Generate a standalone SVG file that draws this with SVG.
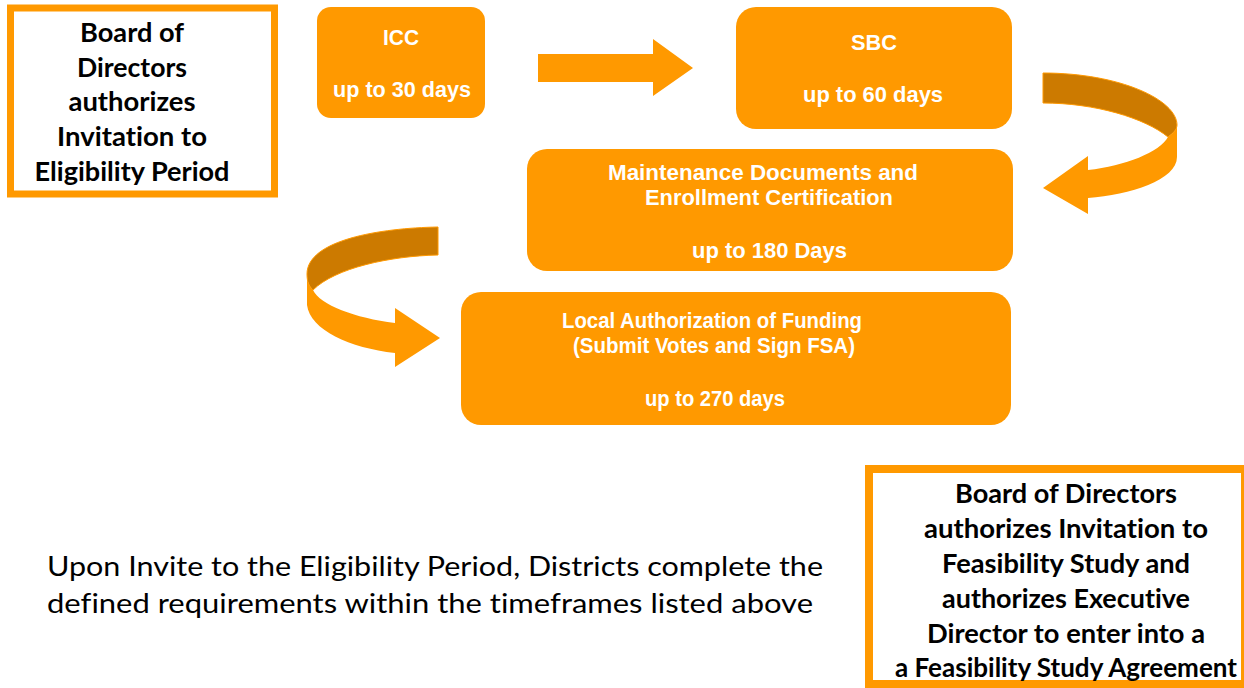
<svg xmlns="http://www.w3.org/2000/svg" width="1244" height="688" viewBox="0 0 1244 688">
<style>
.step{fill:#FF9900;}
.st{font-family:"Liberation Sans",Arial,sans-serif;font-weight:bold;font-size:21.5px;fill:#FFFFFF;text-anchor:middle;}
.board{fill:#FFFFFF;stroke:#FF9900;}
.bt{font-family:Lato,"Open Sans",sans-serif;font-weight:bold;font-size:26px;fill:#000000;text-anchor:middle;font-variant-ligatures:none;}
.note{font-family:Lato,"Open Sans",sans-serif;font-size:27px;fill:#000000;font-variant-ligatures:none;}
.light{fill:#FF9900;}
.dark{fill:#CC7A00;stroke:#FF9900;stroke-width:1;}
</style>
<rect width="1244" height="688" fill="#FFFFFF"/>

<g id="board-eligibility">
<rect class="board" x="10.5" y="8" width="264" height="186" stroke-width="7"/>
<text class="bt" x="132" y="42" textLength="104" lengthAdjust="spacingAndGlyphs">Board of</text>
<text class="bt" x="132" y="77" textLength="110" lengthAdjust="spacingAndGlyphs">Directors</text>
<text class="bt" x="132" y="111" textLength="127" lengthAdjust="spacingAndGlyphs">authorizes</text>
<text class="bt" x="132" y="146" textLength="150" lengthAdjust="spacingAndGlyphs">Invitation to</text>
<text class="bt" x="132" y="181" textLength="195" lengthAdjust="spacingAndGlyphs">Eligibility Period</text>
</g>

<g id="icc">
<rect class="step" x="317" y="7" width="168" height="111" rx="14"/>
<text class="st" x="401" y="45" textLength="36" lengthAdjust="spacingAndGlyphs">ICC</text>
<text class="st" x="402" y="97" textLength="138" lengthAdjust="spacingAndGlyphs">up to 30 days</text>
</g>

<g id="sbc">
<rect class="step" x="736" y="7" width="276" height="122" rx="20"/>
<text class="st" x="874" y="50" textLength="46" lengthAdjust="spacingAndGlyphs">SBC</text>
<text class="st" x="873" y="102" textLength="140" lengthAdjust="spacingAndGlyphs">up to 60 days</text>
</g>

<g id="maintenance">
<rect class="step" x="527" y="149" width="486" height="122" rx="20"/>
<text class="st" x="763" y="180" textLength="310" lengthAdjust="spacingAndGlyphs">Maintenance Documents  and</text>
<text class="st" x="769" y="205" textLength="248" lengthAdjust="spacingAndGlyphs">Enrollment Certification</text>
<text class="st" x="769.5" y="258" textLength="155" lengthAdjust="spacingAndGlyphs">up to 180 Days</text>
</g>

<g id="local-funding">
<rect class="step" x="461" y="292" width="550" height="133" rx="20"/>
<text class="st" x="712" y="328" textLength="300" lengthAdjust="spacingAndGlyphs">Local Authorization of Funding</text>
<text class="st" x="714" y="353" textLength="282" lengthAdjust="spacingAndGlyphs">(Submit Votes and Sign FSA)</text>
<text class="st" x="715" y="406" textLength="140" lengthAdjust="spacingAndGlyphs">up to 270 days</text>
</g>

<g id="board-feasibility">
<rect class="board" x="869" y="469" width="376" height="215" stroke-width="8"/>
<text class="bt" x="1066" y="503" textLength="222" lengthAdjust="spacingAndGlyphs">Board of Directors</text>
<text class="bt" x="1066" y="538" textLength="284" lengthAdjust="spacingAndGlyphs">authorizes Invitation to</text>
<text class="bt" x="1066" y="573" textLength="248" lengthAdjust="spacingAndGlyphs">Feasibility Study and</text>
<text class="bt" x="1066" y="608" textLength="248" lengthAdjust="spacingAndGlyphs">authorizes Executive</text>
<text class="bt" x="1066" y="643" textLength="278" lengthAdjust="spacingAndGlyphs">Director to enter into a</text>
<text class="bt" x="1066" y="677" textLength="342" lengthAdjust="spacingAndGlyphs">a Feasibility Study Agreement</text>
</g>

<g id="note">
<text class="note" x="47" y="576" textLength="776" lengthAdjust="spacingAndGlyphs">Upon Invite to the Eligibility Period, Districts complete the</text>
<text class="note" x="47" y="613" textLength="766" lengthAdjust="spacingAndGlyphs">defined requirements within the timeframes listed above</text>
</g>

<g id="connectors">
<polygon class="light" points="538,54 653,54 653,39 693,68 653,96 653,82 538,82"/>
<path class="dark" d="M1043,73 C1120,73 1177,100 1177,125 C1177,130 1172,134 1168,137 C1145,118 1095,103 1043,103 Z"/>
<path class="light" d="M1168,137 C1172,134 1177,130 1177,125 L1177,157 C1177,180 1130,195 1088,198 L1088,214 L1043,188 L1088,156 L1088,170 C1125,166 1160,152 1168,137 Z"/>
<path class="dark" d="M438,227 C380,228 307,240 307,274 C307,282 309,286 313,290 C335,268 390,256 438,255 Z"/>
<path class="light" d="M307,274 L307,305 C310,330 350,348 395,353 L395,367 L440,338 L395,308 L395,323 C355,318 320,305 313,290 C309,286 307,282 307,274 Z"/>
</g>
</svg>
